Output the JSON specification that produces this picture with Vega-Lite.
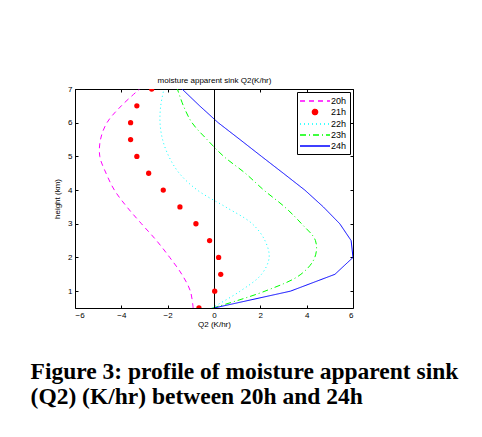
{
  "$schema": "https://vega.github.io/schema/vega-lite/v6.json",
  "width": 278,
  "height": 219,
  "autosize": "none",
  "padding": {"left": 75, "top": 89, "right": 129, "bottom": 129},
  "background": "white",
  "title": {
    "text": ["Figure 3: profile of moisture apparent sink", "(Q2) (K/hr) between 20h and 24h"],
    "orient": "bottom",
    "anchor": "start",
    "frame": "bounds",
    "font": "Liberation Serif",
    "fontSize": 23.5,
    "fontWeight": "bold",
    "color": "black",
    "lineHeight": 25,
    "offset": 32,
    "dx": -23
  },
  "data": {
    "values": [
      {"series": "20h", "height": 7.0, "q2": -3.21},
      {"series": "20h", "height": 6.5, "q2": -4.0},
      {"series": "20h", "height": 6.0, "q2": -4.62},
      {"series": "20h", "height": 5.5, "q2": -4.9},
      {"series": "20h", "height": 5.0, "q2": -4.93},
      {"series": "20h", "height": 4.5, "q2": -4.66},
      {"series": "20h", "height": 4.0, "q2": -4.3},
      {"series": "20h", "height": 3.5, "q2": -3.76},
      {"series": "20h", "height": 3.0, "q2": -3.13},
      {"series": "20h", "height": 2.5, "q2": -2.48},
      {"series": "20h", "height": 2.0, "q2": -1.91},
      {"series": "20h", "height": 1.5, "q2": -1.39},
      {"series": "20h", "height": 1.0, "q2": -1.02},
      {"series": "20h", "height": 0.5, "q2": -0.9},
      {"series": "21h", "height": 7.0, "q2": -2.69},
      {"series": "21h", "height": 6.5, "q2": -3.33},
      {"series": "21h", "height": 6.0, "q2": -3.6},
      {"series": "21h", "height": 5.5, "q2": -3.6},
      {"series": "21h", "height": 5.0, "q2": -3.33},
      {"series": "21h", "height": 4.5, "q2": -2.82},
      {"series": "21h", "height": 4.0, "q2": -2.19},
      {"series": "21h", "height": 3.5, "q2": -1.47},
      {"series": "21h", "height": 3.0, "q2": -0.78},
      {"series": "21h", "height": 2.5, "q2": -0.19},
      {"series": "21h", "height": 2.0, "q2": 0.2},
      {"series": "21h", "height": 1.5, "q2": 0.29},
      {"series": "21h", "height": 1.0, "q2": 0.03},
      {"series": "21h", "height": 0.5, "q2": -0.65},
      {"series": "22h", "height": 7.0, "q2": -2.16},
      {"series": "22h", "height": 6.5, "q2": -2.3},
      {"series": "22h", "height": 6.0, "q2": -2.33},
      {"series": "22h", "height": 5.5, "q2": -2.22},
      {"series": "22h", "height": 5.0, "q2": -1.95},
      {"series": "22h", "height": 4.5, "q2": -1.5},
      {"series": "22h", "height": 4.0, "q2": -0.72},
      {"series": "22h", "height": 3.5, "q2": 0.5},
      {"series": "22h", "height": 3.0, "q2": 1.65},
      {"series": "22h", "height": 2.5, "q2": 2.2},
      {"series": "22h", "height": 2.0, "q2": 2.38},
      {"series": "22h", "height": 1.5, "q2": 2.05},
      {"series": "22h", "height": 1.0, "q2": 1.13},
      {"series": "22h", "height": 0.5, "q2": -0.1},
      {"series": "23h", "height": 7.0, "q2": -1.58},
      {"series": "23h", "height": 6.5, "q2": -1.32},
      {"series": "23h", "height": 6.0, "q2": -0.95},
      {"series": "23h", "height": 5.5, "q2": -0.3},
      {"series": "23h", "height": 5.0, "q2": 0.42},
      {"series": "23h", "height": 4.5, "q2": 1.35},
      {"series": "23h", "height": 4.0, "q2": 2.15},
      {"series": "23h", "height": 3.5, "q2": 3.05},
      {"series": "23h", "height": 3.0, "q2": 3.78},
      {"series": "23h", "height": 2.5, "q2": 4.38},
      {"series": "23h", "height": 2.0, "q2": 4.35},
      {"series": "23h", "height": 1.5, "q2": 3.75},
      {"series": "23h", "height": 1.0, "q2": 2.2},
      {"series": "23h", "height": 0.5, "q2": -0.05},
      {"series": "24h", "height": 7.0, "q2": -1.38},
      {"series": "24h", "height": 6.5, "q2": -0.62},
      {"series": "24h", "height": 6.0, "q2": 0.18},
      {"series": "24h", "height": 5.5, "q2": 1.12},
      {"series": "24h", "height": 5.0, "q2": 2.05},
      {"series": "24h", "height": 4.5, "q2": 2.99},
      {"series": "24h", "height": 4.0, "q2": 3.92},
      {"series": "24h", "height": 3.5, "q2": 4.72},
      {"series": "24h", "height": 3.0, "q2": 5.43},
      {"series": "24h", "height": 2.5, "q2": 5.92},
      {"series": "24h", "height": 2.0, "q2": 6.0},
      {"series": "24h", "height": 1.5, "q2": 5.22},
      {"series": "24h", "height": 1.0, "q2": 3.3},
      {"series": "24h", "height": 0.5, "q2": 0.0}
    ]
  },
  "resolve": {"axis": {"x": "independent", "y": "independent"}},
  "layer": [
    {
      "transform": [{"filter": "datum.series === '20h' || datum.series === '22h' || datum.series === '23h'"}],
      "mark": {"type": "line", "interpolate": "catmull-rom", "strokeWidth": 1, "clip": true},
      "encoding": {
        "x": {"field": "q2", "type": "quantitative", "scale": {"domain": [-6, 6], "nice": false, "zero": false},
          "axis": {"orient": "bottom", "values": [-6, -4, -2, 0, 2, 4, 6], "title": "Q2 (K/hr)", "grid": false, "domain": false, "tickSize": -3, "labelPadding": 6, "titlePadding": 1}},
        "y": {"field": "height", "type": "quantitative", "scale": {"domain": [0.5, 7], "nice": false, "zero": false},
          "axis": {"orient": "left", "values": [1, 2, 3, 4, 5, 6, 7], "title": "height (km)", "grid": false, "domain": false, "tickSize": -3, "labelPadding": 6, "titlePadding": 6}},
        "order": {"field": "height", "type": "quantitative"},
        "color": {"field": "series", "type": "nominal",
          "scale": {"domain": ["20h", "21h", "22h", "23h", "24h"], "range": ["#ff00ff", "#ff0000", "#00ffff", "#00ff00", "#0000ff"]},
          "legend": {
            "title": null,
            "orient": "none",
            "legendX": 222,
            "legendY": 3,
            "symbolType": "M-3,0H3",
            "symbolSize": 100,
            "symbolStrokeWidth": 1.5,
            "symbolOffset": 9,
            "labelOffset": 10,
            "rowPadding": 0,
            "padding": 3,
            "strokeColor": "black",
            "fillColor": "white",
            "labelFont": "Liberation Sans",
            "labelFontSize": 9,
            "labelColor": "black",
            "encode": {"symbols": {"update": {
              "shape": {"signal": "datum.value === '21h' ? 'circle' : 'M-3,0H3'"},
              "size": {"signal": "datum.value === '21h' ? 26 : 100"},
              "fill": {"signal": "datum.value === '21h' ? '#ff0000' : 'transparent'"}
            }}}
          }},
        "strokeDash": {"field": "series", "type": "nominal",
          "scale": {"domain": ["20h", "21h", "22h", "23h", "24h"], "range": [[5, 4], [1, 0], [1, 3], [6, 3, 1, 3], [1, 0]]}}
      }
    },
    {
      "transform": [{"filter": "datum.series === '24h'"}],
      "mark": {"type": "line", "strokeWidth": 1, "clip": true},
      "encoding": {
        "x": {"field": "q2", "type": "quantitative",
          "axis": {"orient": "top", "values": [-6, -4, -2, 0, 2, 4, 6], "labels": false, "title": "moisture apparent sink Q2(K/hr)", "grid": false, "domain": false, "tickSize": -3, "titlePadding": 4}},
        "y": {"field": "height", "type": "quantitative",
          "axis": {"orient": "right", "values": [1, 2, 3, 4, 5, 6, 7], "labels": false, "title": null, "grid": false, "domain": false, "tickSize": -3}},
        "order": {"field": "height", "type": "quantitative"},
        "color": {"field": "series", "type": "nominal"},
        "strokeDash": {"field": "series", "type": "nominal"}
      }
    },
    {
      "mark": {"type": "rule", "color": "black", "strokeWidth": 1, "xOffset": 0.5},
      "encoding": {"x": {"datum": 0, "axis": null}}
    },
    {
      "transform": [{"filter": "datum.series === '21h'"}],
      "mark": {"type": "point", "filled": true, "shape": "circle", "size": 28, "opacity": 1, "clip": true},
      "encoding": {
        "x": {"field": "q2", "type": "quantitative", "axis": null},
        "y": {"field": "height", "type": "quantitative", "axis": null},
        "color": {"field": "series", "type": "nominal"}
      }
    }
  ],
  "config": {
    "view": {"stroke": "black", "strokeWidth": 1},
    "axis": {
      "labelFont": "Liberation Sans",
      "labelFontSize": 8,
      "labelColor": "black",
      "titleFont": "Liberation Sans",
      "titleFontSize": 8,
      "titleFontWeight": "normal",
      "titleColor": "black",
      "tickColor": "black",
      "tickWidth": 1
    }
  }
}
